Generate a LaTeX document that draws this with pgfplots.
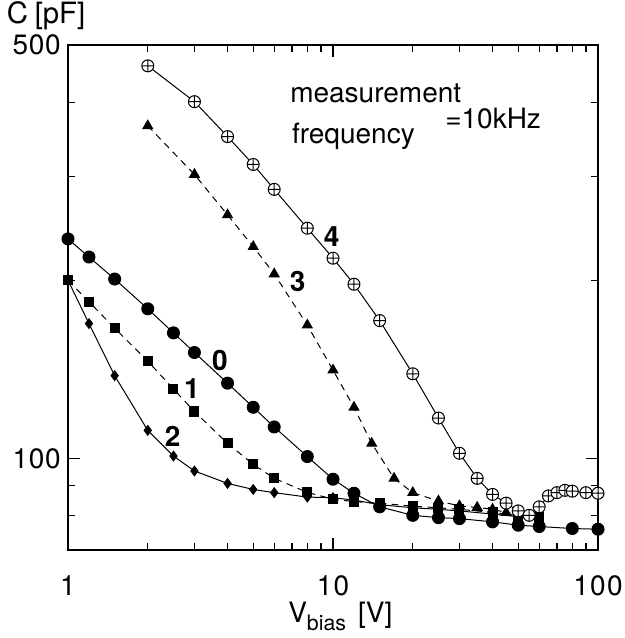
\documentclass[border=0pt]{standalone}
\usepackage{pgfplots}
\pgfplotsset{compat=1.18}
\usetikzlibrary{plotmarks}
\usepackage{fontspec}
\setmainfont{TeX Gyre Heros}
\newcommand{\lf}{\fontsize{21}{25}\selectfont}
\begin{document}
\begin{tikzpicture}
\path[use as bounding box] (-51pt,-66pt) rectangle (417pt,412.5pt);
\begin{axis}[
  at={(0,0)}, anchor=south west,
  scale only axis, width=397.5pt, height=378.75pt,
  xmode=log, ymode=log,
  xmin=1, xmax=100, ymin=70, ymax=500,
  clip=false,
  axis line style={line width=1.5pt},
  tick style={line width=1pt, black},
  major tick length=9pt, minor tick length=5pt,
  tick align=inside,
  xtick={1,10,100}, xticklabels={1,{1\kern1pt0},{1\kern1pt0\kern1pt0}},
  minor xtick={2,3,4,5,6,7,8,9,20,30,40,50,60,70,80,90},
  ytick={100,500}, yticklabels={{1\kern0.5pt0\kern0.5pt0},{5\kern0.5pt0\kern0.5pt0}},
  minor ytick={80,90,200,300,400},
  xticklabel style={yshift=-16pt, font=\lf},
  yticklabel style={xshift=-2pt, font=\lf},
]
\addplot[black, line width=0.75pt, mark=*, mark size=4.5pt] coordinates {
(1,235) (1.2,219) (1.5,201) (2,179) (2.5,163) (3,151) (4,134) (5,122) (6,113) (8,100.7) (10,92.2) (12,87.3) (15,82.8) (20,80.1) (25,79.4) (30,79.1) (40,78.1) (50,77.1) (60,76.7) (80,76.1) (100,75.9)};
\addplot[black, line width=0.75pt, mark=diamond*, mark size=3.6pt] coordinates {
(1,200) (1.2,169) (1.5,138) (2,111.5) (2.5,100.9) (3,95.2) (4,90.7) (5,88.6) (6,87.5) (8,86) (10,85.8) (12,85) (15,83.5) (20,82.5) (25,82) (30,81.5) (40,80.5) (50,79.7) (60,79.2)};
\addplot[black, line width=0.75pt, dash pattern=on 5pt off 4pt, mark=square*, mark size=3.4pt, mark options={solid}] coordinates {
(1,200) (1.2,184) (1.5,166) (2,146) (2.5,131) (3,120) (4,106) (5,97.7) (6,92.5) (8,87.6) (10,85.3) (12,84.5) (15,84) (20,83) (25,82.5) (30,82) (40,81) (50,80) (60,79.5)};
\addplot[black, line width=0.75pt, dash pattern=on 5pt off 4pt, mark=triangle*, mark size=4.2pt, mark options={solid}] coordinates {
(2,365) (3,302) (4,258) (5,228) (6,205) (8,168) (10,141) (12,122) (14,106) (17,92.5) (20,87.5) (25,84.7) (30,83.1) (35,82.6) (40,82) (45,81)};
\addplot[black, line width=0.75pt, mark=oplus*, mark size=4.5pt, mark options={fill=white}] coordinates {
(2,461) (3,401) (4,350) (5,314) (6,285) (8,245) (10,218) (12,197) (15,171) (20,139) (25,117) (30,102) (35,92.5) (40,86.9) (45,84) (50,81.5) (55,80.1) (60,82.8) (65,86.4) (70,87.5) (75,88.3) (80,88) (90,87.5) (100,87.3)};
\end{axis}
\node[anchor=west, font=\fontsize{22}{26}\selectfont, inner sep=0pt] at (-46pt,401pt) {C\kern5pt[pF]};
\node[anchor=base west, font=\lf, inner sep=0pt] at (165pt,-54.5pt) {V\raisebox{-5.5pt}{\fontsize{16}{19}\selectfont bias}\kern9pt[V]};
\node[anchor=base west, font=\lf, inner sep=0pt] at (166.5pt,335.5pt) {measurement};
\node[anchor=base west, font=\lf, inner sep=0pt] at (167.8pt,305pt) {frequency};
\node[anchor=base west, font=\lf, inner sep=0pt] at (282.75pt,316.3pt) {=10kHz};
\node[font=\lf\bfseries, inner sep=0pt] at (114pt,142.5pt) {0};
\node[font=\lf\bfseries, inner sep=0pt] at (93pt,121.3pt) {1};
\node[font=\lf\bfseries, inner sep=0pt] at (78.5pt,85pt) {2};
\node[font=\lf\bfseries, inner sep=0pt] at (172.3pt,201.75pt) {3};
\node[font=\lf\bfseries, inner sep=0pt] at (197.8pt,235pt) {4};
\end{tikzpicture}
\end{document}
